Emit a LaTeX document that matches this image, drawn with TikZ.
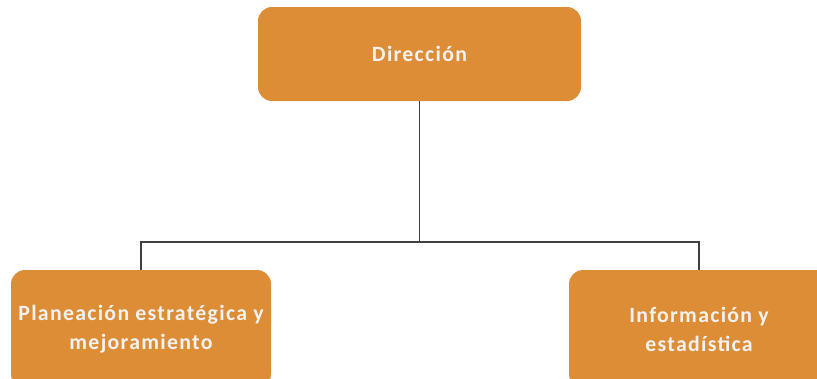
\documentclass[tikz,border=0pt]{standalone}
\usepackage{fontspec}
\setmainfont{Carlito}[LetterSpace=6]
\definecolor{boxorange}{RGB}{222,141,55}
\definecolor{txtwhite}{RGB}{242,242,242}
\definecolor{linegray}{RGB}{64,64,64}
\begin{document}
\begin{tikzpicture}[x=1pt,y=-1pt,
  orgbox/.style={draw=none,fill=boxorange,rounded corners=14pt,align=center,
    text=txtwhite,font=\fontsize{21.8}{29}\selectfont\bfseries,inner sep=0pt},
  conn/.style={draw=linegray,line width=1.4pt}]
\useasboundingbox (0,0) rectangle (817,378);
\node[orgbox,minimum width=323,minimum height=94] (top) at (419.5,54) {Dirección};
\node[orgbox,minimum width=260,minimum height=118] (left) at (141,329) {Planeación estratégica y\\mejoramiento};
\node[orgbox,minimum width=260,minimum height=118] (right) at (699,329) {Información y\\estadística};
\coordinate (j) at (419.5,242);
\draw[conn] (top.south) -- (j) -| (left.north);
\draw[conn] (j) -| (right.north);
\end{tikzpicture}
\end{document}
